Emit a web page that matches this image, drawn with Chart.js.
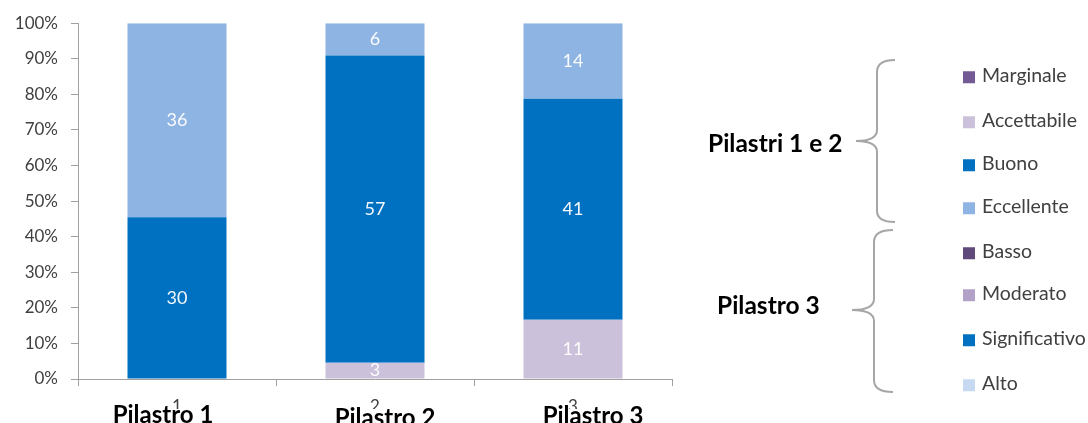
<!DOCTYPE html>
<html>
<head>
<meta charset="utf-8">
<script src="https://cdn.jsdelivr.net/npm/chart.js@4/dist/chart.umd.min.js"></script>
<style>
  html, body { margin: 0; padding: 0; background: #fff; }
  body { width: 1088px; height: 423px; position: relative; overflow: hidden; font-family: Lato, sans-serif; }
  #wrap { position: absolute; left: 0; top: 0; width: 690px; height: 423px; }
  .pil { position: absolute; font-weight: bold; font-size: 24px; color: #000; white-space: nowrap; transform: translateX(-50%); line-height: 1; }
  .grp { position: absolute; font-weight: bold; font-size: 24.5px; color: #000; white-space: nowrap; line-height: 1; transform: translateY(-50%); }
  .leg { position: absolute; left: 963px; font-size: 19.5px; color: #404040; white-space: nowrap; line-height: 1; transform: translateY(-50%); }
  .leg i { display: inline-block; width: 12px; height: 12px; margin-right: 7px; vertical-align: -1px; }
  svg { position: absolute; left: 0; top: 0; pointer-events: none; }
</style>
</head>
<body>
<div id="wrap"><canvas id="c"></canvas></div>
<svg width="1088" height="423">
  <path d="M895 60 Q877 60 877 72 L877 130 Q877 141 856 141 Q877 141 877 152 L877 211 Q877 222 895 222" fill="none" stroke="#A6A6A6" stroke-width="2"/>
  <path d="M893 230 Q874 230 874 242 L874 299 Q874 310 852 310 Q874 310 874 321 L874 380 Q874 392 893 392" fill="none" stroke="#A6A6A6" stroke-width="2"/>
</svg>
<div id="overlay"></div>
<script>
// ---- data ----
const categories = ['1', '2', '3'];
const pillarNames = ['Pilastro 1', 'Pilastro 2', 'Pilastro 3'];
const lowValues  = [0, 3, 11];   // Accettabile / Moderato
const midValues  = [30, 57, 41]; // Buono / Significativo
const highValues = [36, 6, 14];  // Eccellente / Alto
const seriesNames = ['Accettabile', 'Buono', 'Eccellente'];
const yTickStep = 10;
const groupLabels = ['Pilastri 1 e 2', 'Pilastro 3'];
const legendGroup1 = ['Marginale', 'Accettabile', 'Buono', 'Eccellente'];
const legendGroup2 = ['Basso', 'Moderato', 'Significativo', 'Alto'];

// ---- styles ----
const seriesColors = ['#CCC1DA', '#0070C0', '#8EB4E3'];
const legendColors1 = ['#735A94', '#CCC1DA', '#0070C0', '#8EB4E3'];
const legendColors2 = ['#604A7B', '#B3A2C7', '#0070C0', '#C6D9F1'];

const raw = [lowValues, midValues, highValues];
const totals = categories.map((_, i) => raw.reduce((s, a) => s + a[i], 0));
const datasets = raw.map((arr, k) => ({
  label: seriesNames[k],
  data: arr.map((v, i) => v / totals[i] * 100),
  rawValues: arr,
  backgroundColor: seriesColors[k],
  borderWidth: 0,
  categoryPercentage: 1,
  barPercentage: 0.5
}));

const valueLabels = {
  id: 'valueLabels',
  afterDatasetsDraw(chart) {
    const ctx = chart.ctx;
    ctx.save();
    ctx.font = '18px Lato';
    ctx.fillStyle = 'rgba(255,255,255,0.95)';
    ctx.textAlign = 'center';
    ctx.textBaseline = 'middle';
    chart.data.datasets.forEach((ds, di) => {
      const meta = chart.getDatasetMeta(di);
      meta.data.forEach((el, i) => {
        const v = ds.rawValues[i];
        if (!v) return;
        ctx.fillText(String(v), el.x, (el.y + el.base) / 2);
      });
    });
    ctx.restore();
  }
};

const axisColor = '#A0A0A0';
new Chart(document.getElementById('c'), {
  type: 'bar',
  data: { labels: categories, datasets },
  options: {
    responsive: true,
    maintainAspectRatio: false,
    animation: false,
    layout: { padding: { top: 22, right: 18, bottom: 14, left: 0 } },
    plugins: { legend: { display: false }, tooltip: { enabled: false } },
    scales: {
      x: {
        stacked: true,
        offset: true,
        grid: { offset: true, drawOnChartArea: false, tickLength: 7, color: axisColor },
        border: { color: axisColor },
        ticks: { color: '#404040', font: { family: 'Lato', size: 17 }, padding: 10 },
        afterFit: s => { s.height = 30; }
      },
      y: {
        stacked: true,
        min: 0,
        max: 100,
        grid: { drawOnChartArea: false, tickLength: 7, color: axisColor },
        border: { color: axisColor },
        ticks: { stepSize: yTickStep, color: '#404040', font: { family: 'Lato', size: 17 }, padding: 13, callback: v => v + '%' },
        afterFit: s => { s.width = 78; }
      }
    }
  },
  plugins: [valueLabels]
});

// ---- text overlay (pillar names, group labels, legend) ----
const ov = document.getElementById('overlay');
const pilPos = [[163, 402], [385, 405], [593, 403]];
pillarNames.forEach((t, i) => {
  const d = document.createElement('div');
  d.className = 'pil'; d.textContent = t;
  d.style.left = pilPos[i][0] + 'px'; d.style.top = pilPos[i][1] + 'px';
  ov.appendChild(d);
});
const grpPos = [[708, 143], [717, 305]];
groupLabels.forEach((t, i) => {
  const d = document.createElement('div');
  d.className = 'grp'; d.textContent = t;
  d.style.left = grpPos[i][0] + 'px'; d.style.top = grpPos[i][1] + 'px';
  ov.appendChild(d);
});
const legY = [75, 120, 163, 206, 251, 293, 338, 383];
legendGroup1.concat(legendGroup2).forEach((t, i) => {
  const col = i < 4 ? legendColors1[i] : legendColors2[i - 4];
  const d = document.createElement('div');
  d.className = 'leg';
  d.style.top = legY[i] + 'px';
  const sw = document.createElement('i'); sw.style.background = col;
  d.appendChild(sw);
  d.appendChild(document.createTextNode(t));
  ov.appendChild(d);
});
</script>
</body>
</html>
